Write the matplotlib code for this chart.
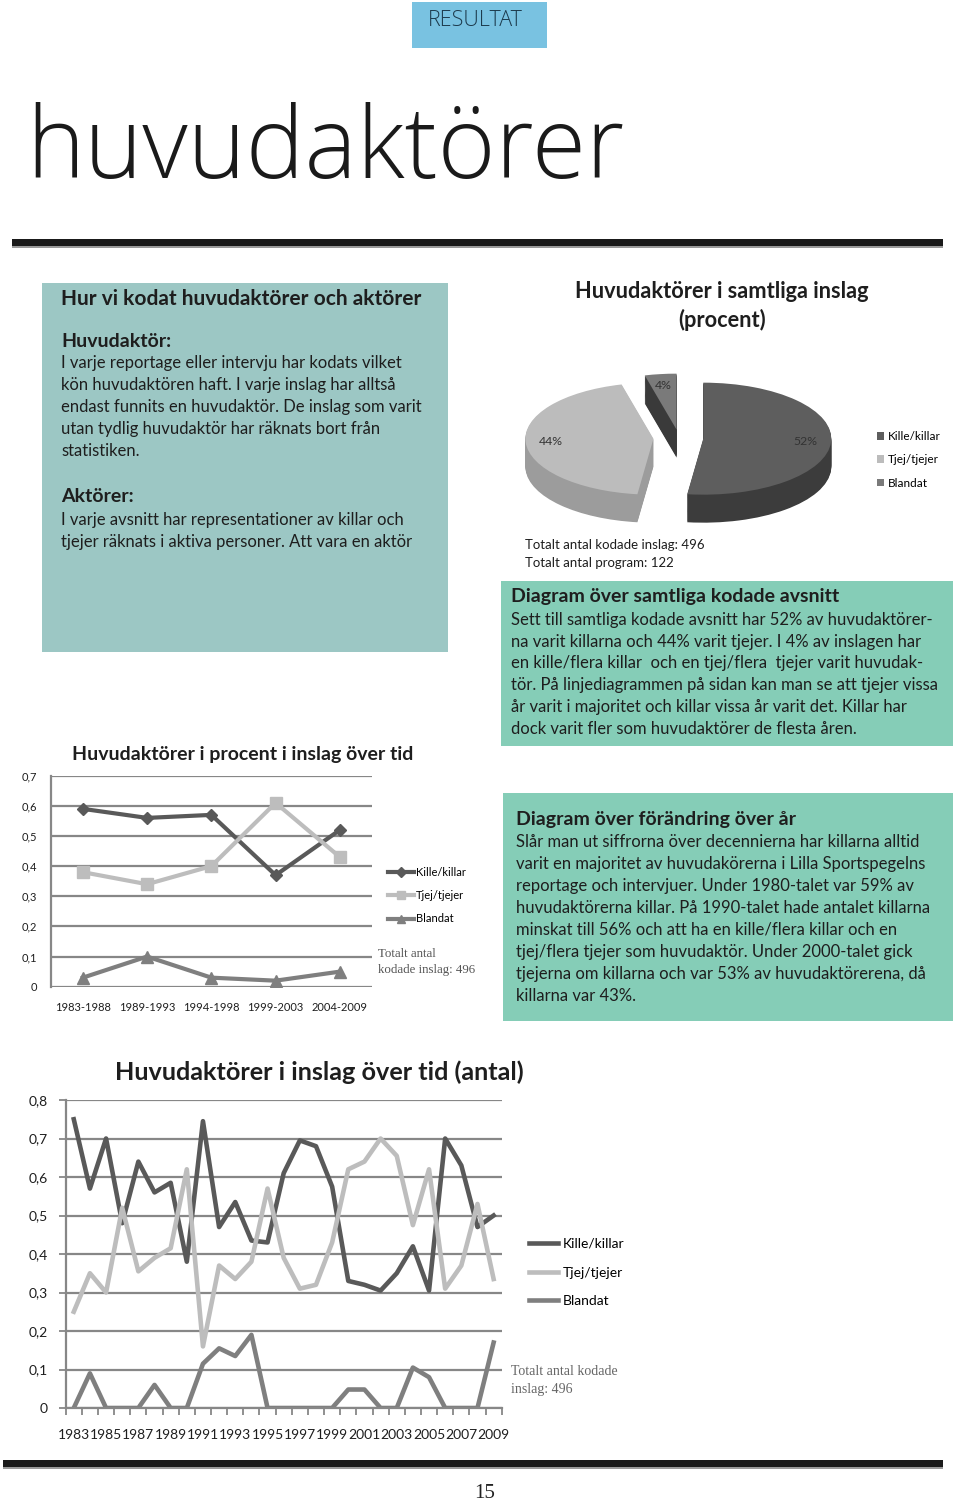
import numpy as np
import matplotlib
matplotlib.use("Agg")
import matplotlib.pyplot as plt
from matplotlib.patches import Rectangle

## page size in pixels
W, H = 960, 1500

###############################################################################
##                                   Data                                    ##
###############################################################################

series_names = ["Kille/killar", "Tjej/tjejer", "Blandat"]

# pie: share of all coded items
pie_values = [52, 44, 4]

# middle chart: share per period
periods = ["1983-1988", "1989-1993", "1994-1998", "1999-2003", "2004-2009"]
period_kille = [0.59, 0.56, 0.57, 0.37, 0.52]
period_tjej = [0.38, 0.34, 0.40, 0.61, 0.43]
period_blandat = [0.03, 0.10, 0.03, 0.02, 0.05]

# bottom chart: share per year
years = list(range(1983, 2010))
year_kille = [0.75, 0.57, 0.70, 0.48, 0.64, 0.56, 0.585, 0.38, 0.745, 0.47,
              0.535, 0.435, 0.43, 0.61, 0.695, 0.68, 0.575, 0.33, 0.32, 0.305,
              0.35, 0.42, 0.305, 0.70, 0.63, 0.47, 0.50]
year_tjej = [0.25, 0.35, 0.30, 0.52, 0.355, 0.39, 0.415, 0.62, 0.16, 0.37,
             0.335, 0.38, 0.57, 0.39, 0.31, 0.32, 0.43, 0.62, 0.64, 0.70,
             0.655, 0.475, 0.62, 0.31, 0.37, 0.53, 0.335]
year_blandat = [0.0, 0.09, 0.0, 0.0, 0.0, 0.06, 0.0, 0.0, 0.115, 0.155,
                0.135, 0.19, 0.0, 0.0, 0.0, 0.0, 0.0, 0.048, 0.048, 0.0,
                0.0, 0.105, 0.08, 0.0, 0.0, 0.0, 0.17]

## colours
C_KILLE = "#595959"
C_TJEJ = "#bdbdbd"
C_BLANDAT = "#7f7f7f"
C_GRID = "#878787"
C_TEAL = "#9cc7c4"
C_GREEN = "#85cdb7"
C_TEXT = "#1e1e1e"

SANS = ["Lato", "DejaVu Sans"]
SERIF = ["Liberation Serif", "DejaVu Serif"]

plt.rcParams["font.family"] = SANS

BODY = 12.0
HEAD = 14


###############################################################################
##                              Helper functions                             ##
###############################################################################

def px_rect(x0, y0, x1, y1):
    return [x0 / W, 1 - y1 / H, (x1 - x0) / W, (y1 - y0) / H]

def ftext(x, y, s, **kw):
    return fig.text(x / W, 1 - y / H, s, **kw)

def fbox(x0, y0, x1, y1, color):
    fig.add_artist(Rectangle((x0 / W, 1 - y1 / H), (x1 - x0) / W, (y1 - y0) / H,
                             transform=fig.transFigure, facecolor=color,
                             edgecolor="none", zorder=0))

def write_lines(x, y0, lines, step=22, size=BODY, **kw):
    for i, line in enumerate(lines):
        ftext(x, y0 + i * step, line, fontsize=size, color=C_TEXT,
              va="baseline", ha="left", **kw)


fig = plt.figure(figsize=(W / 100, H / 100), dpi=100)

###############################################################################
##                               Page header                                 ##
###############################################################################

fbox(412, 2, 547, 48, "#79c2e1")
ftext(475, 21, "RESULTAT", fontsize=15.5, color="#1d3b4d", ha="center", va="center",
      family=["Open Sans", "DejaVu Sans"], fontweight="light")
ftext(26, 178, "huvudaktörer", fontsize=71, color="#1a1a1a", ha="left", va="baseline",
      family=["Open Sans", "DejaVu Sans"], fontweight="light")

fbox(12, 239, 943, 246, "#1a1a1a")
fbox(12, 246, 943, 248, "#9a9a9a")
fbox(3, 1460, 943, 1467, "#1a1a1a")
fbox(3, 1467, 943, 1469, "#9a9a9a")
ftext(485, 1498, "15", fontsize=15, family=SERIF, color="#222", ha="center", va="baseline")

###############################################################################
##                               Text boxes                                  ##
###############################################################################

fbox(42, 283, 448, 652, C_TEAL)
ftext(61, 305, "Hur vi kodat huvudaktörer och aktörer", fontsize=15, fontweight="bold",
      color=C_TEXT, va="baseline")
ftext(61, 347, "Huvudaktör:", fontsize=HEAD, fontweight="bold", color=C_TEXT, va="baseline")
write_lines(61, 368, [
    "I varje reportage eller intervju har kodats vilket",
    "kön huvudaktören haft. I varje inslag har alltså",
    "endast funnits en huvudaktör. De inslag som varit",
    "utan tydlig huvudaktör har räknats bort från",
    "statistiken.",
])
ftext(61, 502, "Aktörer:", fontsize=HEAD, fontweight="bold", color=C_TEXT, va="baseline")
write_lines(61, 525, [
    "I varje avsnitt har representationer av killar och",
    "tjejer räknats i aktiva personer. Att vara en aktör",
])

fbox(501, 581, 953, 746, C_GREEN)
ftext(511, 602, "Diagram över samtliga kodade avsnitt", fontsize=HEAD, fontweight="bold",
      color=C_TEXT, va="baseline")
write_lines(511, 625, [
    "Sett till samtliga kodade avsnitt har 52% av huvudaktörer-",
    "na varit killarna och 44% varit tjejer. I 4% av inslagen har",
    "en kille/flera killar  och en tjej/flera  tjejer varit huvudak-",
    "tör. På linjediagrammen på sidan kan man se att tjejer vissa",
    "år varit i majoritet och killar vissa år varit det. Killar har",
    "dock varit fler som huvudaktörer de flesta åren.",
], step=21.7)

fbox(503, 793, 953, 1021, C_GREEN)
ftext(516, 825, "Diagram över förändring över år", fontsize=HEAD, fontweight="bold",
      color=C_TEXT, va="baseline")
write_lines(516, 847, [
    "Slår man ut siffrorna över decennierna har killarna alltid",
    "varit en majoritet av huvudakörerna i Lilla Sportspegelns",
    "reportage och intervjuer. Under 1980-talet var 59% av",
    "huvudaktörerna killar. På 1990-talet hade antalet killarna",
    "minskat till 56% och att ha en kille/flera killar och en",
    "tjej/flera tjejer som huvudaktör. Under 2000-talet gick",
    "tjejerna om killarna och var 53% av huvudaktörerena, då",
    "killarna var 43%.",
])

###############################################################################
##                                3D pie                                     ##
###############################################################################

ftext(722, 298, "Huvudaktörer i samtliga inslag", fontsize=15.7, fontweight="bold",
      color=C_TEXT, ha="center", va="baseline")
ftext(722, 327, "(procent)", fontsize=15.7, fontweight="bold",
      color=C_TEXT, ha="center", va="baseline")

ax_pie = fig.add_axes(px_rect(515, 355, 865, 535))
top_colors = ["#5e5e5e", "#bcbcbc", "#7a7a7a"]
side_colors = ["#3c3c3c", "#9c9c9c", "#3a3a3a"]
explode = [0.19, 0.2, 0.15]
depth = 0.5
n_layers = 30
for k in range(n_layers, 0, -1):
    d = depth * k / n_layers
    ax_pie.pie(pie_values, explode=explode, startangle=90, counterclock=False,
               colors=side_colors, center=(0, -d), wedgeprops=dict(linewidth=0))
wedges, _, autotexts = ax_pie.pie(pie_values, explode=explode, startangle=90, counterclock=False,
                                  colors=top_colors, center=(0, 0), autopct="%d%%",
                                  pctdistance=0.8, wedgeprops=dict(linewidth=0),
                                  textprops=dict(fontsize=8.8, color="#333333"))
ax_pie.set_aspect("auto")
ax_pie.set_xlim(-1.281, 1.453)
ax_pie.set_ylim(-1.732, 1.482)
ax_pie.axis("off")

pie_handles = [Rectangle((0, 0), 1, 1, facecolor=c, edgecolor="none") for c in top_colors]
fig.legend(pie_handles, series_names, loc="upper left",
           bbox_to_anchor=(877 / W, 1 - 431 / H), frameon=False, fontsize=8.5,
           handlelength=0.6, handleheight=0.6, handletextpad=0.35, labelspacing=1.05,
           borderpad=0, borderaxespad=0)

ftext(525, 549, "Totalt antal kodade inslag: 496", fontsize=9.5, color=C_TEXT, va="baseline")
ftext(525, 567, "Totalt antal program: 122", fontsize=9.5, color=C_TEXT, va="baseline")

###############################################################################
##                         Middle chart (per period)                         ##
###############################################################################

ftext(72, 760, "Huvudaktörer i procent i inslag över tid", fontsize=14, fontweight="bold",
      color=C_TEXT, va="baseline")

ax_mid = fig.add_axes(px_rect(50.7, 775.7, 372, 986.7))
x_mid = np.arange(len(periods))
ax_mid.plot(x_mid, period_kille, color=C_KILLE, lw=3, marker="D", ms=6.5, label=series_names[0])
ax_mid.plot(x_mid, period_tjej, color=C_TJEJ, lw=3, marker="s", ms=8, label=series_names[1])
ax_mid.plot(x_mid, period_blandat, color=C_BLANDAT, lw=3, marker="^", ms=8, label=series_names[2])
ax_mid.set_xlim(-0.5, len(periods) - 0.5)
ax_mid.set_ylim(0, 0.7)
ax_mid.set_yticks(np.arange(0, 0.71, 0.1))
ax_mid.set_yticklabels(["0", "0,1", "0,2", "0,3", "0,4", "0,5", "0,6", "0,7"])
ax_mid.set_xticks(x_mid)
ax_mid.set_xticklabels(periods)
ax_mid.tick_params(axis="both", length=0, labelsize=8, colors=C_TEXT)
ax_mid.tick_params(axis="y", pad=10)
ax_mid.tick_params(axis="x", pad=11)
ax_mid.grid(axis="y", color=C_GRID, lw=1.6)
ax_mid.set_axisbelow(True)
for s in ["top", "right", "bottom"]:
    ax_mid.spines[s].set_visible(False)
ax_mid.spines["left"].set_color(C_GRID)
ax_mid.spines["left"].set_linewidth(1.6)
ax_mid.legend(loc="upper left", bbox_to_anchor=(388 / W, 1 - 867 / H),
              bbox_transform=fig.transFigure, frameon=False, fontsize=8,
              handlelength=2.3, handletextpad=0.25, labelspacing=1.1,
              borderpad=0, borderaxespad=0, markerscale=0.8)
ftext(378, 957, "Totalt antal", fontsize=9.3, family=SERIF, color="#555555", va="baseline")
ftext(378, 973, "kodade inslag: 496", fontsize=9.3, family=SERIF, color="#555555", va="baseline")

###############################################################################
##                          Bottom chart (per year)                          ##
###############################################################################

ftext(115, 1080, "Huvudaktörer i inslag över tid (antal)", fontsize=18.2, fontweight="bold",
      color=C_TEXT, va="baseline")

ax_bot = fig.add_axes(px_rect(65.7, 1100, 501.7, 1408))
ax_bot.plot(years, year_kille, color=C_KILLE, lw=3.3, label=series_names[0])
ax_bot.plot(years, year_tjej, color=C_TJEJ, lw=3.3, label=series_names[1])
ax_bot.plot(years, year_blandat, color=C_BLANDAT, lw=3.3, label=series_names[2])
ax_bot.set_xlim(years[0] - 0.5, years[-1] + 0.5)
ax_bot.set_ylim(0, 0.8)
ax_bot.set_yticks(np.arange(0, 0.81, 0.1))
ax_bot.set_yticklabels(["0", "0,1", "0,2", "0,3", "0,4", "0,5", "0,6", "0,7", "0,8"])
# tick marks between the years, labels on every other year
ax_bot.set_xticks(np.arange(years[0] - 0.5, years[-1] + 0.6, 1))
ax_bot.set_xticklabels([])
ax_bot.set_xticks(years[::2], minor=True)
ax_bot.set_xticklabels([str(y) for y in years[::2]], minor=True)
ax_bot.tick_params(axis="x", which="major", length=5, width=1.3, color=C_GRID)
ax_bot.tick_params(axis="x", which="minor", length=0, pad=15, labelsize=10, colors=C_TEXT)
ax_bot.tick_params(axis="y", length=5, width=1.3, color=C_GRID, labelsize=10,
                   labelcolor=C_TEXT, pad=8)
ax_bot.grid(axis="y", color=C_GRID, lw=1.6)
ax_bot.set_axisbelow(True)
for s in ["top", "right"]:
    ax_bot.spines[s].set_visible(False)
for s in ["left", "bottom"]:
    ax_bot.spines[s].set_color(C_GRID)
    ax_bot.spines[s].set_linewidth(1.6)
ax_bot.legend(loc="upper left", bbox_to_anchor=(529 / W, 1 - 1238 / H),
              bbox_transform=fig.transFigure, frameon=False, fontsize=10,
              handlelength=2.1, handletextpad=0.35, labelspacing=1.2,
              borderpad=0, borderaxespad=0)
ftext(511, 1375, "Totalt antal kodade", fontsize=10, family=SERIF, color="#666666", va="baseline")
ftext(511, 1393, "inslag: 496", fontsize=10, family=SERIF, color="#666666", va="baseline")

fig.savefig("out.png", dpi=100)
